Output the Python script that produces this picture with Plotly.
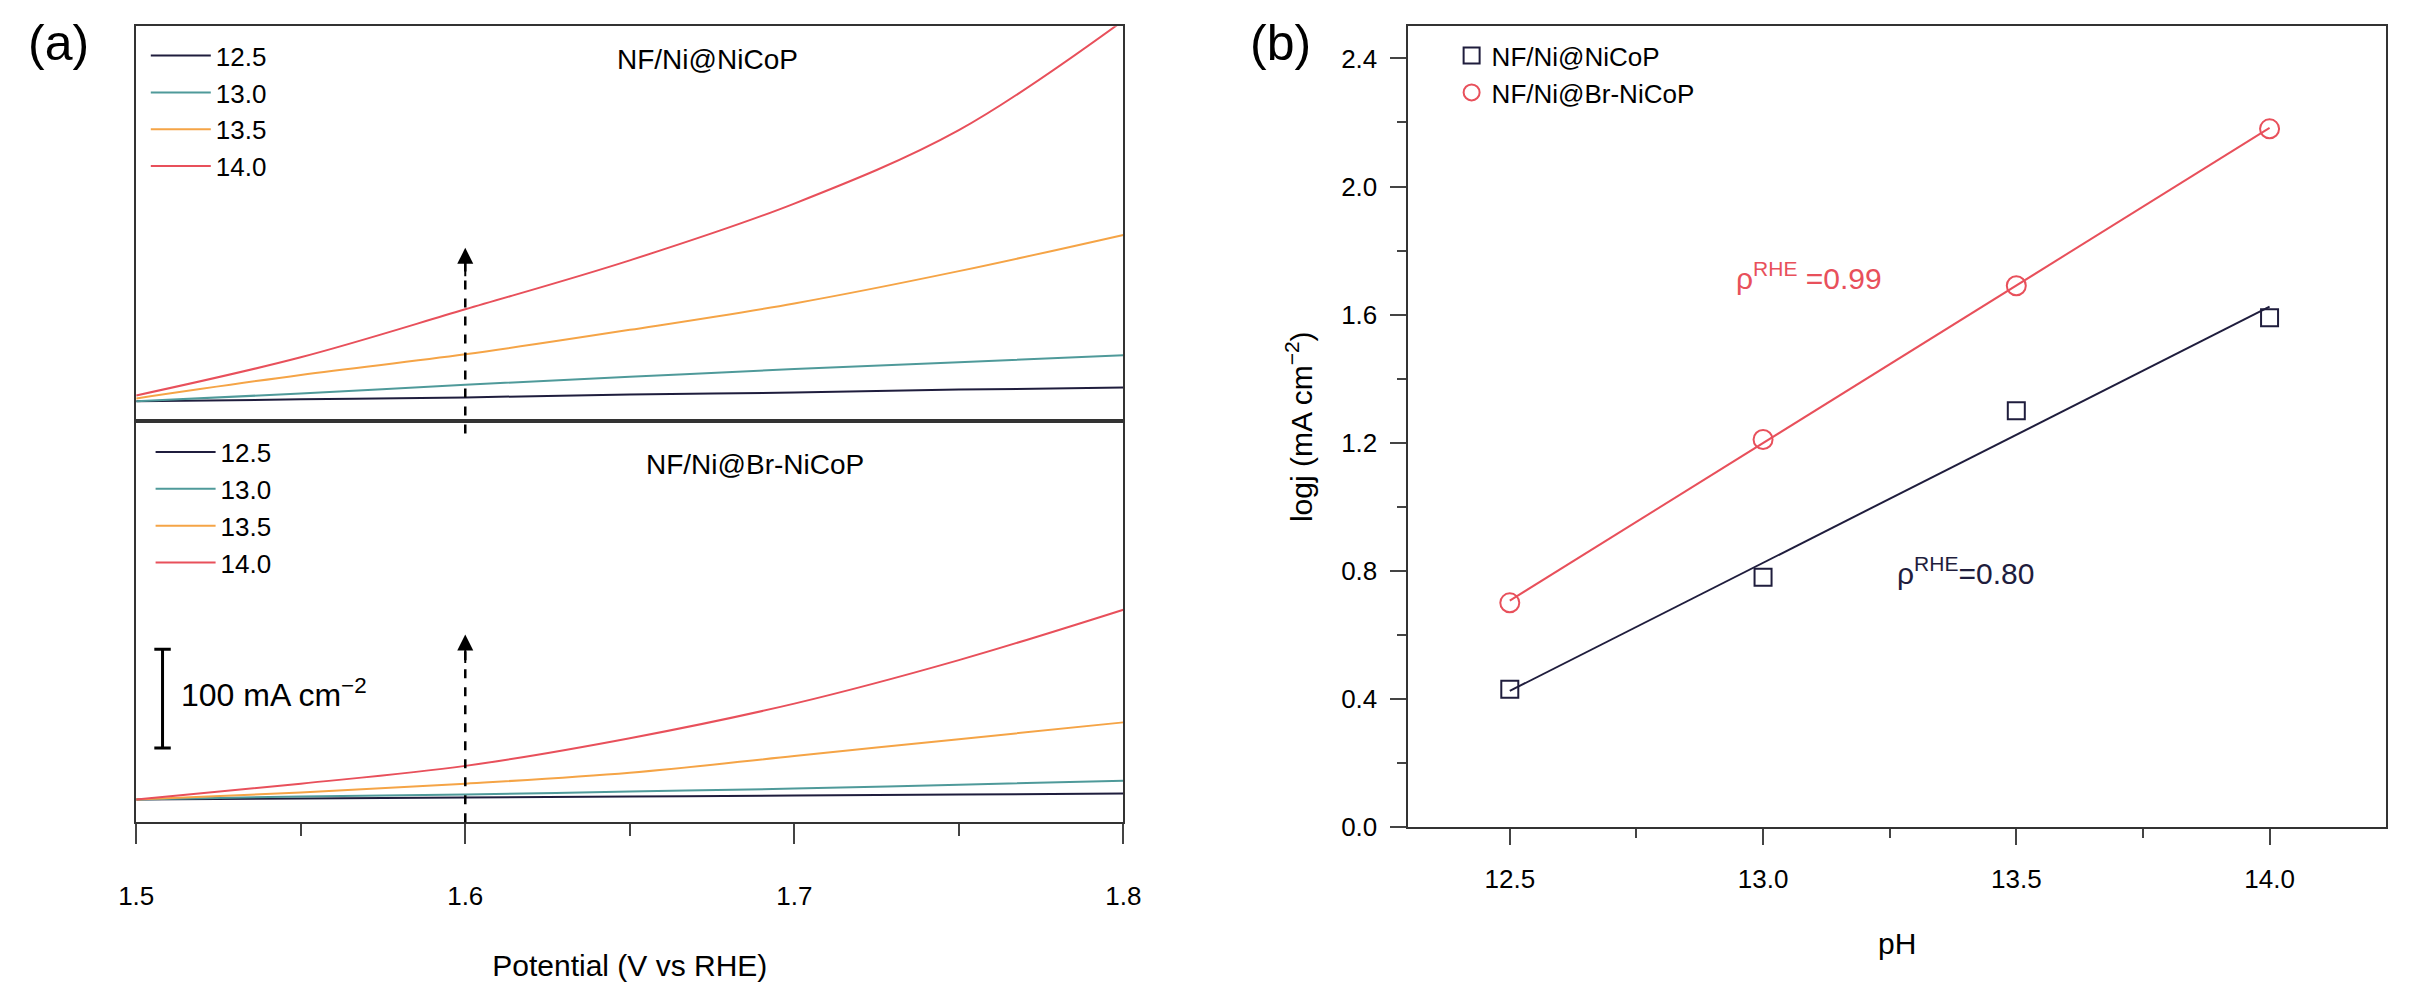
import numpy as np
import plotly.graph_objects as go

# (a) LSV curves, current in mA cm-2 (relative offsets)
potential = [1.50, 1.55, 1.60, 1.65, 1.70, 1.75, 1.80]
ph_labels = ["12.5", "13.0", "13.5", "14.0"]
colors = ["#1f1d3d", "#4f9a9a", "#f5a446", "#e8505b"]

nicop_j = [
    [0, 2, 4, 7, 9, 12, 14],
    [0, 8, 17, 25, 33, 40, 47],
    [3, 27, 48, 73, 100, 133, 170],
    [6, 45, 94, 144, 202, 277, 389],
]
br_j = [
    [0, 1, 2, 3, 4, 5, 6],
    [0, 3, 5, 8, 11, 15, 19],
    [0, 7, 16, 27, 44, 61, 78],
    [0, 16, 34, 62, 97, 141, 192],
]

# (b) log j vs pH
ph = [12.5, 13.0, 13.5, 14.0]
logj_nicop = [0.43, 0.78, 1.30, 1.59]
logj_br = [0.70, 1.21, 1.69, 2.18]

FONT = "Liberation Sans"
fig = go.Figure()

for i, lab in enumerate(ph_labels):
    fig.add_trace(go.Scatter(x=potential, y=nicop_j[i], mode="lines", name=lab,
                             line=dict(color=colors[i], width=2, shape="spline"),
                             xaxis="x", yaxis="y", legend="legend"))
for i, lab in enumerate(ph_labels):
    fig.add_trace(go.Scatter(x=potential, y=br_j[i], mode="lines", name=lab,
                             line=dict(color=colors[i], width=2, shape="spline"),
                             xaxis="x2", yaxis="y2", legend="legend2"))

fig.add_trace(go.Scatter(x=ph, y=logj_nicop, mode="markers", name="NF/Ni@NiCoP",
                         marker=dict(symbol="square-open", size=17, color="#1f1d3d", line=dict(width=2)),
                         xaxis="x3", yaxis="y3", legend="legend3"))
fig.add_trace(go.Scatter(x=ph, y=logj_br, mode="markers", name="NF/Ni@Br-NiCoP",
                         marker=dict(symbol="circle-open", size=19, color="#e8505b", line=dict(width=2)),
                         xaxis="x3", yaxis="y3", legend="legend3"))

# linear fits
for yv, c in [(logj_nicop, "#1f1d3d"), (logj_br, "#e8505b")]:
    k, b = np.polyfit(ph, yv, 1)
    xs = np.array([ph[0], ph[-1]])
    fig.add_trace(go.Scatter(x=xs, y=k * xs + b, mode="lines", showlegend=False,
                             line=dict(color=c, width=2), xaxis="x3", yaxis="y3"))

tickfont = dict(family=FONT, size=26, color="black")
box = dict(showline=True, linecolor="#333", linewidth=2, mirror=True, showgrid=False, zeroline=False)

fig.update_layout(
    width=2432, height=982, paper_bgcolor="white", plot_bgcolor="white",
    margin=dict(l=0, r=0, t=0, b=0), font=dict(family=FONT, color="black"),
    xaxis=dict(domain=[0.046, 0.458], range=[1.5, 1.8], anchor="y", showticklabels=False,
               ticks="", **box),
    yaxis=dict(domain=[0.573, 0.981], range=[-20, 383], anchor="x", showticklabels=False, ticks="", **box),
    xaxis2=dict(domain=[0.046, 0.458], range=[1.5, 1.8], anchor="y2", ticks="outside", ticklen=20,
                tickwidth=2, dtick=0.1, tickformat=".1f", tickfont=tickfont, ticklabelstandoff=30,
                minor=dict(ticks="outside", ticklen=12, tickwidth=2, dtick=0.05),
                title=dict(text="Potential (V vs RHE)", font=dict(family=FONT, size=30), standoff=45),
                **box),
    yaxis2=dict(domain=[0.158, 0.573], range=[-23, 383], anchor="x2", showticklabels=False, ticks="", **box),
    xaxis3=dict(domain=[0.577, 0.985], range=[12.3, 14.23], anchor="y3", ticks="outside", ticklen=16,
                tickwidth=2, tickvals=ph, ticktext=["12.5", "13.0", "13.5", "14.0"], tickfont=tickfont,
                ticklabelstandoff=12,
                minor=dict(ticks="outside", ticklen=9, tickwidth=2, dtick=0.25, tick0=12.25),
                title=dict(text="pH", font=dict(family=FONT, size=30), standoff=40), **box),
    yaxis3=dict(domain=[0.153, 0.981], range=[0, 2.5], anchor="x3", ticks="outside", ticklen=16,
                tickwidth=2, dtick=0.4, tickformat=".1f", tickfont=tickfont, ticklabelstandoff=8,
                minor=dict(ticks="outside", ticklen=9, tickwidth=2, dtick=0.2),
                title=dict(text="logj (mA cm<sup>−2</sup>)", font=dict(family=FONT, size=30), standoff=20),
                **box),
    legend=dict(x=0.05, y=0.975, xanchor="left", yanchor="top", font=dict(family=FONT, size=26),
                bgcolor="rgba(0,0,0,0)", itemwidth=60, tracegroupgap=0),
    legend2=dict(x=0.052, y=0.565, xanchor="left", yanchor="top", font=dict(family=FONT, size=26),
                 bgcolor="rgba(0,0,0,0)", itemwidth=60),
    legend3=dict(x=0.595, y=0.975, xanchor="left", yanchor="top", font=dict(family=FONT, size=26),
                 bgcolor="rgba(0,0,0,0)"),
)

ann = [
    dict(text="(a)", x=0.0, y=0.995, xref="paper", yref="paper", xanchor="left", yanchor="top",
         showarrow=False, font=dict(size=50)),
    dict(text="(b)", x=0.51, y=0.995, xref="paper", yref="paper", xanchor="left", yanchor="top",
         showarrow=False, font=dict(size=50)),
    dict(text="NF/Ni@NiCoP", x=0.246, y=0.965, xref="paper", yref="paper", showarrow=False,
         font=dict(size=28)),
    dict(text="NF/Ni@Br-NiCoP", x=0.258, y=0.528, xref="paper", yref="paper", showarrow=False,
         font=dict(size=28)),
    dict(text="100 mA cm<sup>−2</sup>", x=1.513, y=108, xref="x2", yref="y2", xanchor="left",
         showarrow=False, font=dict(size=32)),
    dict(text="ρ<sup>RHE</sup> =0.99", x=13.09, y=1.72, xref="x3", yref="y3", showarrow=False,
         font=dict(size=30, color="#e8505b")),
    dict(text="ρ<sup>RHE</sup>=0.80", x=13.40, y=0.80, xref="x3", yref="y3", showarrow=False,
         font=dict(size=30, color="#1f1d3d")),
]
# arrowheads
for y1 in [0.752, 0.352]:
    ann.append(dict(x=1.6, y=y1, ax=0, ay=30, xref="x2", yref="paper",
                    text="", showarrow=True, arrowhead=2, arrowsize=1.6,
                    arrowwidth=2, arrowcolor="black"))
fig.update_layout(annotations=ann)

shapes = [
    dict(type="line", x0=1.6, x1=1.6, y0=0.560, y1=0.745, xref="x2", yref="paper",
         line=dict(color="black", width=2.5, dash="dash")),
    dict(type="line", x0=1.6, x1=1.6, y0=0.158, y1=0.345, xref="x2", yref="paper",
         line=dict(color="black", width=2.5, dash="dash")),
    # scale bar
    dict(type="line", x0=1.508, x1=1.508, y0=52, y1=152, xref="x2", yref="y2",
         line=dict(color="black", width=3)),
    dict(type="line", x0=1.5055, x1=1.5105, y0=52, y1=52, xref="x2", yref="y2",
         line=dict(color="black", width=3)),
    dict(type="line", x0=1.5055, x1=1.5105, y0=152, y1=152, xref="x2", yref="y2",
         line=dict(color="black", width=3)),
]
fig.update_layout(shapes=shapes)

fig.write_html("out.html")
